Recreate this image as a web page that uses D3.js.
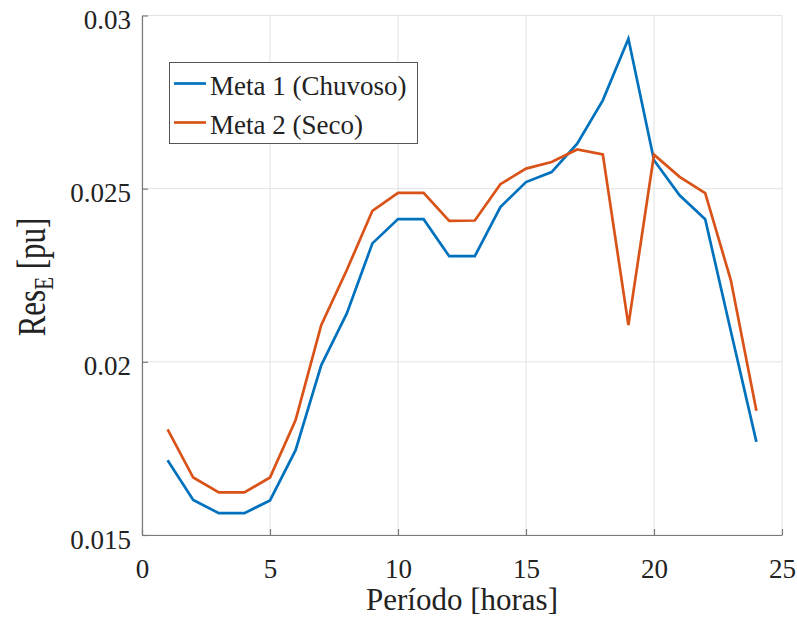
<!DOCTYPE html>
<html>
<head>
<meta charset="utf-8">
<script src="https://cdn.jsdelivr.net/npm/d3@7"></script>
<style>
  html, body { margin: 0; padding: 0; background: #ffffff; }
  svg { display: block; }
</style>
</head>
<body>
<svg id="chart" width="797" height="635"></svg>
<script>
const periods = [1,2,3,4,5,6,7,8,9,10,11,12,13,14,15,16,17,18,19,20,21,22,23,24];
const meta1 = [0.01716, 0.01601, 0.01563, 0.01563, 0.01600, 0.01745, 0.01990, 0.02140,
               0.02342, 0.02412, 0.02412, 0.02305, 0.02305, 0.02447, 0.02519, 0.02548,
               0.02630, 0.02755, 0.02933, 0.02582, 0.02481, 0.02412, 0.02089, 0.01769];
const meta2 = [0.01805, 0.01666, 0.01623, 0.01623, 0.01666, 0.01832, 0.02106, 0.02265,
               0.02436, 0.02488, 0.02488, 0.02407, 0.02408, 0.02513, 0.02558, 0.02577,
               0.02613, 0.02599, 0.02106, 0.02598, 0.02534, 0.02487, 0.02236, 0.01859];
const seriesNames = ["Meta 1 (Chuvoso)", "Meta 2 (Seco)"];
const seriesColors = ["#0072BD", "#D95319"];
const xTicks = [0, 5, 10, 15, 20, 25];
const xTickLabels = ["0", "5", "10", "15", "20", "25"];
const yTicks = [0.015, 0.02, 0.025, 0.03];
const yTickLabels = ["0.015", "0.02", "0.025", "0.03"];

const FONT = "Liberation Serif";
const svg = d3.select("#chart");
const L = 142, R = 782, T = 15.5, B = 535;
const x = d3.scaleLinear().domain([0, 25]).range([L, R]);
const y = d3.scaleLinear().domain([0.015, 0.03]).range([B, T]);

// grid
const grid = svg.append("g");
grid.selectAll("line.gx").data(xTicks).join("line")
  .attr("x1", d => x(d)).attr("x2", d => x(d)).attr("y1", T).attr("y2", B)
  .attr("stroke", "#e3e3e3").attr("stroke-width", 1);
grid.selectAll("line.gy").data(yTicks).join("line")
  .attr("y1", d => y(d)).attr("y2", d => y(d)).attr("x1", L).attr("x2", R)
  .attr("stroke", "#e3e3e3").attr("stroke-width", 1);

// lines
const series = [meta1, meta2];
const line = d3.line().x((d, i) => x(periods[i])).y(d => y(d));
svg.append("g").selectAll("path").data(series).join("path")
  .attr("d", d => line(d))
  .attr("fill", "none")
  .attr("stroke", (d, i) => seriesColors[i])
  .attr("stroke-width", 2.7)
  .attr("stroke-linejoin", "miter");

// axes
const xAxis = d3.axisBottom(x).tickValues(xTicks)
  .tickFormat((d, i) => xTickLabels[i]).tickSizeInner(-6).tickSizeOuter(0);
const gx = svg.append("g").attr("transform", `translate(0,${B})`).call(xAxis);
gx.attr("font-family", FONT);
gx.select(".domain").attr("stroke", "#7a7a7a").attr("stroke-width", 1.2);
gx.selectAll(".tick line").attr("stroke", "#7a7a7a").attr("stroke-width", 1.2);
gx.selectAll(".tick text").attr("y", 43).attr("dy", 0)
  .attr("font-size", 27).attr("fill", "#222").attr("font-family", FONT);

const yAxis = d3.axisLeft(y).tickValues(yTicks)
  .tickFormat((d, i) => yTickLabels[i]).tickSizeInner(-6).tickSizeOuter(0);
const gy = svg.append("g").attr("transform", `translate(${L},0)`).call(yAxis);
gy.attr("font-family", FONT);
gy.select(".domain").attr("stroke", "#7a7a7a").attr("stroke-width", 1.2);
gy.selectAll(".tick line").attr("stroke", "#7a7a7a").attr("stroke-width", 1.2);
gy.selectAll(".tick text").attr("x", -11).attr("y", 13).attr("dy", 0)
  .attr("font-size", 27).attr("fill", "#222").attr("font-family", FONT);

// axis labels
svg.append("text")
  .attr("x", (L + R) / 2).attr("y", 610)
  .attr("text-anchor", "middle").attr("font-size", 31)
  .attr("font-family", FONT).attr("fill", "#222")
  .text("Período [horas]");

const yl = svg.append("text")
  .attr("transform", "translate(45,277) rotate(-90) scale(1,1.3)")
  .attr("text-anchor", "middle").attr("font-size", 31)
  .attr("font-family", FONT).attr("fill", "#222");
yl.append("tspan").text("Res");
yl.append("tspan").attr("font-size", 21).attr("dy", 6).text("E");
yl.append("tspan").attr("dy", -6).text(" [pu]");

// legend
const lg = svg.append("g");
lg.append("rect").attr("x", 169.5).attr("y", 62.5).attr("width", 248).attr("height", 81)
  .attr("fill", "#fff").attr("stroke", "#555").attr("stroke-width", 1);
const rows = [83.5, 122.5];
seriesNames.forEach((name, i) => {
  lg.append("line").attr("x1", 174).attr("x2", 206).attr("y1", rows[i]).attr("y2", rows[i])
    .attr("stroke", seriesColors[i]).attr("stroke-width", 2.7);
  lg.append("text").attr("x", 210).attr("y", rows[i] + 11)
    .attr("font-size", 27).attr("font-family", FONT).attr("fill", "#222").text(name);
});
</script>
</body>
</html>
